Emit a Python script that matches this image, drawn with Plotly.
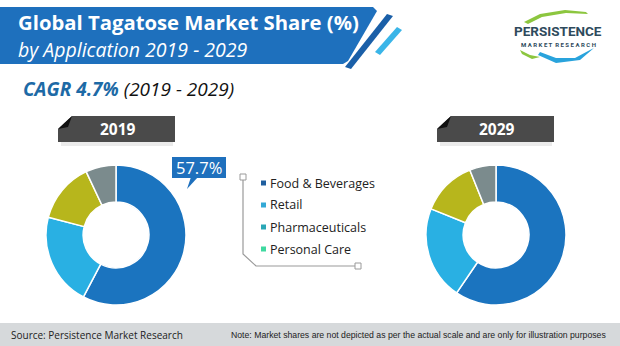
import plotly.graph_objects as go

# ---- data -------------------------------------------------------------
applications = ["Food & Beverages", "Retail", "Pharmaceuticals", "Personal Care"]
share_2019 = [57.7, 21.4, 13.9, 7.0]
share_2029 = [59.5, 21.6, 12.8, 6.1]
years = ["2019", "2029"]
slice_colors = ["#1b74bf", "#29b0e3", "#b7b61c", "#7b8b8d"]
legend_colors = ["#1f5e9e", "#33a9d6", "#2aa7b6", "#3fd9a0"]
cagr_text = "CAGR 4.7%"
cagr_period = "(2019 - 2029)"

W, H = 620, 346


def px(x):
    return x / W


def py(y):
    return 1 - y / H


def path(points):
    return "M" + " L".join(f"{px(x):.5f},{py(y):.5f}" for x, y in points) + " Z"


fig = go.Figure()

# ---- donuts -----------------------------------------------------------
R = 70
for values, cx in [(share_2019, 116), (share_2029, 496)]:
    cy = 235
    fig.add_trace(go.Pie(
        labels=applications, values=values, hole=0.47, sort=False,
        direction="clockwise", rotation=0, textinfo="none",
        hoverinfo="label+percent",
        marker=dict(colors=slice_colors, line=dict(color="white", width=1.5)),
        domain=dict(x=[px(cx - R), px(cx + R)], y=[py(cy + R), py(cy - R)]),
        showlegend=False,
    ))

shapes = []
ann = []

# ---- header bar -------------------------------------------------------
shapes.append(dict(type="path", xref="paper", yref="paper", line_width=0,
                   fillcolor="#1e70bd",
                   path=path([(0, 7), (373, 7), (377, 11), (348, 61), (343, 64), (0, 64)])))
shapes.append(dict(type="path", xref="paper", yref="paper", line_width=0,
                   fillcolor="#1a5fa8",
                   path=path([(387, 14), (393, 16), (351, 69), (345, 67)])))
shapes.append(dict(type="path", xref="paper", yref="paper", line_width=0,
                   fillcolor="#3ab5e8",
                   path=path([(397, 27), (402, 30), (380, 55), (375, 52)])))
ann.append(dict(x=px(16), y=py(22.5), xref="paper", yref="paper", xanchor="left",
                yanchor="middle", showarrow=False,
                text="<b>Global Tagatose Market Share (%)</b>",
                font=dict(family="Open Sans", size=20.3, color="white")))
ann.append(dict(x=px(16), y=py(49), xref="paper", yref="paper", xanchor="left",
                yanchor="middle", showarrow=False,
                text="<i>by Application 2019 - 2029</i>",
                font=dict(family="Open Sans", size=19.5, color="white")))

# ---- CAGR line --------------------------------------------------------
ann.append(dict(x=px(21), y=py(89), xref="paper", yref="paper", xanchor="left",
                yanchor="middle", showarrow=False,
                text=f"<b><i><span style='color:#1d6aa6'>{cagr_text}</span></i></b>"
                     f" <i>{cagr_period}</i>",
                font=dict(family="Open Sans", size=19, color="#111111")))

# ---- logo -------------------------------------------------------------
shapes.append(dict(type="path", xref="paper", yref="paper", line_width=0,
                   fillcolor="#8cc63f",
                   path=path([(524, 22), (540, 14), (565, 10), (586, 12), (588, 14),
                              (566, 13), (542, 17), (528, 24)])))
shapes.append(dict(type="path", xref="paper", yref="paper", line_width=0,
                   fillcolor="#29a3dc",
                   path=path([(540, 52), (556, 58), (575, 58), (590, 50), (594, 48),
                              (580, 60), (556, 63), (538, 55)])))
shapes.append(dict(type="path", xref="paper", yref="paper", line_width=0,
                   fillcolor="#8cc63f",
                   path=path([(520, 50), (530, 55), (540, 57), (532, 59), (522, 54)])))
ann.append(dict(x=px(558), y=py(31), xref="paper", yref="paper", xanchor="center",
                yanchor="middle", showarrow=False, text="<b>PERSISTENCE</b>",
                font=dict(family="Roboto", size=13.5, color="#2e4a5c")))
ann.append(dict(x=px(558), y=py(44), xref="paper", yref="paper", xanchor="center",
                yanchor="middle", showarrow=False,
                text="<b>M A R K E T  R E S E A R C H</b>",
                font=dict(family="Roboto", size=6, color="#2e4a5c")))

# ---- year tags --------------------------------------------------------
for label, cx in zip(years, [116, 495]):
    x0, x1, y0, y1 = cx - 58, cx + 59, 116, 142
    shapes.append(dict(type="rect", xref="paper", yref="paper", line_width=0,
                       fillcolor="rgba(0,0,0,0.08)",
                       x0=px(x0 + 3), x1=px(x1 - 2), y0=py(y1 + 4), y1=py(y1)))
    shapes.append(dict(type="path", xref="paper", yref="paper", line_width=0,
                       fillcolor="#4a4a4a",
                       path=path([(x0 + 14, y0), (x1, y0), (x1, y1), (x0, y1), (x0, y0 + 13)])))
    shapes.append(dict(type="path", xref="paper", yref="paper", line_width=0,
                       fillcolor="#111111",
                       path=path([(x0 + 14, y0), (x0 + 10, y0 + 11), (x0, y0 + 13)])))
    ann.append(dict(x=px(cx + 2), y=py(129), xref="paper", yref="paper", xanchor="center",
                    yanchor="middle", showarrow=False, text=f"<b>{label}</b>",
                    font=dict(family="Open Sans", size=15.5, color="white")))

# ---- value callout ----------------------------------------------------
shapes.append(dict(type="rect", xref="paper", yref="paper", line_width=0,
                   fillcolor="#1e70bd", x0=px(172), x1=px(226), y0=py(178), y1=py(157)))
shapes.append(dict(type="path", xref="paper", yref="paper", line_width=0,
                   fillcolor="#1e70bd",
                   path=path([(191, 177), (198, 177), (187, 189)])))
ann.append(dict(x=px(199), y=py(167.5), xref="paper", yref="paper", xanchor="center",
                yanchor="middle", showarrow=False, text=f"{share_2019[0]}%",
                font=dict(family="Open Sans", size=16.5, color="white")))

# ---- legend -----------------------------------------------------------
lc = "#9a9a9a"
shapes.append(dict(type="path", xref="paper", yref="paper", line=dict(color=lc, width=1.2),
                   path="M" + " L".join(f"{px(x):.5f},{py(y):.5f}" for x, y in
                                        [(243, 180), (243, 254), (256, 266), (355, 266)])))
for sx, sy in [(243, 177), (358, 266)]:
    shapes.append(dict(type="rect", xref="paper", yref="paper", line=dict(color=lc, width=1),
                       fillcolor="white", x0=px(sx - 3), x1=px(sx + 3),
                       y0=py(sy + 3), y1=py(sy - 3)))
for i, (name, col) in enumerate(zip(applications, legend_colors)):
    ly = 183 + i * 22
    shapes.append(dict(type="rect", xref="paper", yref="paper", line_width=0,
                       fillcolor=col, x0=px(261), x1=px(266), y0=py(ly + 2.5), y1=py(ly - 2.5)))
    ann.append(dict(x=px(268), y=py(ly), xref="paper", yref="paper", xanchor="left",
                    yanchor="middle", showarrow=False, text=name,
                    font=dict(family="Open Sans", size=12.5, color="#222222")))

# ---- footer -----------------------------------------------------------
shapes.append(dict(type="rect", xref="paper", yref="paper", line_width=0,
                   fillcolor="#d6d9db", x0=0, x1=1, y0=0, y1=py(323)))
ann.append(dict(x=px(9), y=py(335), xref="paper", yref="paper", xanchor="left",
                yanchor="middle", showarrow=False, text="Source: Persistence Market Research",
                font=dict(family="Open Sans", size=10, color="#222222")))
ann.append(dict(x=px(229), y=py(335), xref="paper", yref="paper", xanchor="left",
                yanchor="middle", showarrow=False,
                text="Note: Market shares are not depicted as per the actual scale and are only for illustration purposes",
                font=dict(family="Liberation Sans", size=8.7, color="#222222")))

fig.update_layout(width=W, height=H, margin=dict(l=0, r=0, t=0, b=0),
                  paper_bgcolor="white", plot_bgcolor="white",
                  shapes=shapes, annotations=ann, showlegend=False)

fig.write_html("out.html")
